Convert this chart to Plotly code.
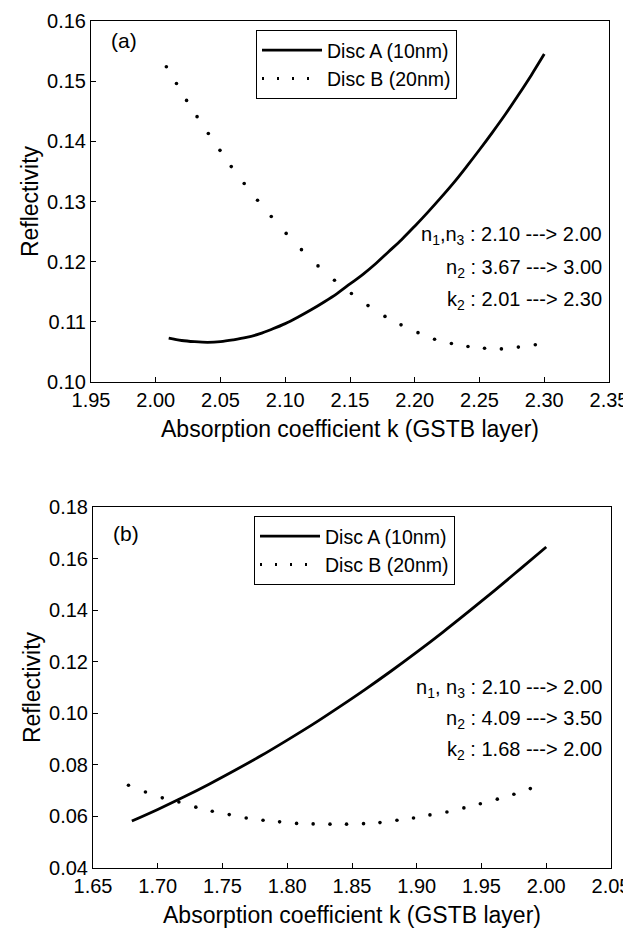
import plotly.graph_objects as go

# ---------------- data: panel (a) ----------------
k_a_discA = [2.01, 2.02, 2.03, 2.04, 2.05, 2.06, 2.07, 2.08, 2.09, 2.10,
             2.11, 2.12, 2.13, 2.14, 2.15, 2.16, 2.17, 2.18, 2.19, 2.20,
             2.21, 2.22, 2.23, 2.24, 2.25, 2.26, 2.27, 2.28, 2.29, 2.30]
r_a_discA = [0.1073, 0.1069, 0.1067, 0.1066, 0.1067, 0.1070, 0.1074, 0.1080, 0.1088, 0.1097,
             0.1108, 0.1120, 0.1133, 0.1147, 0.1163, 0.1179, 0.1197, 0.1217, 0.1237, 0.1259,
             0.1282, 0.1306, 0.1331, 0.1358, 0.1386, 0.1415, 0.1445, 0.1477, 0.1510, 0.1545]

k_a_discB = [2.0082, 2.0160, 2.0238, 2.0319, 2.0406, 2.0496, 2.0583, 2.0683, 2.0786, 2.0892,
             2.1007, 2.1125, 2.1253, 2.1380, 2.1511, 2.1639, 2.1770, 2.1894, 2.2025, 2.2153,
             2.2283, 2.2411, 2.2539, 2.2669, 2.2800, 2.2931]
r_a_discB = [0.1524, 0.1496, 0.1468, 0.1441, 0.1413, 0.1385, 0.1358, 0.1330, 0.1302, 0.1275,
             0.1247, 0.1220, 0.1193, 0.1169, 0.1147, 0.1127, 0.1109, 0.1095, 0.1082, 0.1071,
             0.1064, 0.1059, 0.1056, 0.1055, 0.1058, 0.1062]

# ---------------- data: panel (b) ----------------
k_b_discA = [1.68, 1.70, 1.72, 1.74, 1.76, 1.78, 1.80, 1.82, 1.84, 1.86,
             1.88, 1.90, 1.92, 1.94, 1.96, 1.98, 2.00]
r_b_discA = [0.0582, 0.0627, 0.0675, 0.0726, 0.0780, 0.0836, 0.0896, 0.0958, 0.1024, 0.1092,
             0.1163, 0.1237, 0.1314, 0.1394, 0.1476, 0.1560, 0.1645]

k_b_discB = [1.6774, 1.6905, 1.7035, 1.7163, 1.7294, 1.7421, 1.7552, 1.7683, 1.7813, 1.7941,
             1.8072, 1.8200, 1.8330, 1.8458, 1.8589, 1.8716, 1.8847, 1.8975, 1.9102, 1.9233,
             1.9364, 1.9491, 1.9622, 1.9750, 1.9877]
r_b_discB = [0.0721, 0.0695, 0.0672, 0.0656, 0.0636, 0.0620, 0.0607, 0.0594, 0.0585, 0.0579,
             0.0573, 0.0571, 0.0570, 0.0570, 0.0572, 0.0576, 0.0585, 0.0594, 0.0606, 0.0617,
             0.0633, 0.0649, 0.0667, 0.0686, 0.0708]

series_names = ["Disc A (10nm)", "Disc B (20nm)"]
panel_labels = ["(a)", "(b)"]
params_a = ["n<sub>1</sub>,n<sub>3</sub> : 2.10 ---> 2.00",
            "n<sub>2</sub> : 3.67 ---> 3.00",
            "k<sub>2</sub> : 2.01 ---> 2.30"]
params_b = ["n<sub>1</sub>, n<sub>3</sub> : 2.10 ---> 2.00",
            "n<sub>2</sub> : 4.09 ---> 3.50",
            "k<sub>2</sub> : 1.68 ---> 2.00"]
x_title = "Absorption coefficient k (GSTB layer)"
y_title = "Reflectivity"

FONT = "Liberation Sans"
# the page body adds an 8px margin, so the figure is drawn 8px smaller
OFF = 8
W, H = 631 - OFF, 936 - OFF

def fx(px):
    return (px - OFF) / W

def fy(py):
    return 1 - (py - OFF) / H

fig = go.Figure()

def add_panel(kA, rA, kB, rB, xa, ya, legend):
    fig.add_trace(go.Scatter(x=kA, y=rA, mode="lines", name=series_names[0],
                             line=dict(color="black", width=2.8, shape="spline"),
                             xaxis=xa, yaxis=ya, legend=legend))
    fig.add_trace(go.Scatter(x=kB, y=rB, mode="markers", name=series_names[1],
                             marker=dict(color="black", size=3.6),
                             xaxis=xa, yaxis=ya, showlegend=False))
    # legend sample for the dotted series
    fig.add_trace(go.Scatter(x=[None], y=[None], mode="lines", name=series_names[1],
                             line=dict(color="black", width=3, dash="2px,13px"),
                             xaxis=xa, yaxis=ya, legend=legend))

add_panel(k_a_discA, r_a_discA, k_a_discB, r_a_discB, "x", "y", "legend")
add_panel(k_b_discA, r_b_discA, k_b_discB, r_b_discB, "x2", "y2", "legend2")

axis_common = dict(showline=True, linecolor="black", linewidth=1, mirror=True,
                   ticks="inside", ticklen=5, tickcolor="black", showgrid=False,
                   zeroline=False, automargin=False,
                   tickfont=dict(family=FONT, size=20, color="black"),
                   tickformat=".2f")
title_font = dict(family=FONT, size=23, color="black")

fig.update_layout(
    template="none",
    width=W, height=H,
    margin=dict(l=0, r=0, t=0, b=0, pad=0),
    paper_bgcolor="white", plot_bgcolor="white",
    font=dict(family=FONT, color="black", size=20),
    xaxis=dict(domain=[fx(91), fx(609)], range=[1.95, 2.35], dtick=0.05, tick0=1.95, anchor="y",
               title=dict(text=x_title, font=title_font, standoff=10), **axis_common),
    yaxis=dict(domain=[fy(382), fy(21)], range=[0.10, 0.16], dtick=0.01, tick0=0.10, anchor="x",
               title=dict(text=y_title, font=title_font, standoff=2), **axis_common),
    xaxis2=dict(domain=[fx(93), fx(611)], range=[1.65, 2.05], dtick=0.05, tick0=1.65, anchor="y2",
                title=dict(text=x_title, font=title_font, standoff=10), **axis_common),
    yaxis2=dict(domain=[fy(868), fy(507)], range=[0.04, 0.18], dtick=0.02, tick0=0.04, anchor="x2",
                title=dict(text=y_title, font=title_font, standoff=2), **axis_common),
    legend=dict(x=fx(256), y=fy(30), xanchor="left", yanchor="top",
                bordercolor="black", borderwidth=1, bgcolor="white", itemwidth=60,
                font=dict(family=FONT, size=19.5, color="black"), tracegroupgap=0),
    legend2=dict(x=fx(254), y=fy(516), xanchor="left", yanchor="top",
                 bordercolor="black", borderwidth=1, bgcolor="white", itemwidth=60,
                 font=dict(family=FONT, size=19.5, color="black"), tracegroupgap=0),
)

annots = []
annots.append(dict(text=panel_labels[0], x=fx(109), y=fy(41), xref="paper", yref="paper",
                   xanchor="left", yanchor="middle", showarrow=False,
                   font=dict(family=FONT, size=21, color="black")))
annots.append(dict(text=panel_labels[1], x=fx(111), y=fy(533), xref="paper", yref="paper",
                   xanchor="left", yanchor="middle", showarrow=False,
                   font=dict(family=FONT, size=21, color="black")))
for txt, yy in zip(params_a, [235, 268, 300]):
    annots.append(dict(text=txt, x=fx(604), y=fy(yy), xref="paper", yref="paper",
                       xanchor="right", yanchor="middle", showarrow=False,
                       font=dict(family=FONT, size=20, color="black")))
for txt, yy in zip(params_b, [688, 719, 750]):
    annots.append(dict(text=txt, x=fx(604), y=fy(yy), xref="paper", yref="paper",
                       xanchor="right", yanchor="middle", showarrow=False,
                       font=dict(family=FONT, size=20, color="black")))
fig.update_layout(annotations=annots)

fig.write_html("out.html")
